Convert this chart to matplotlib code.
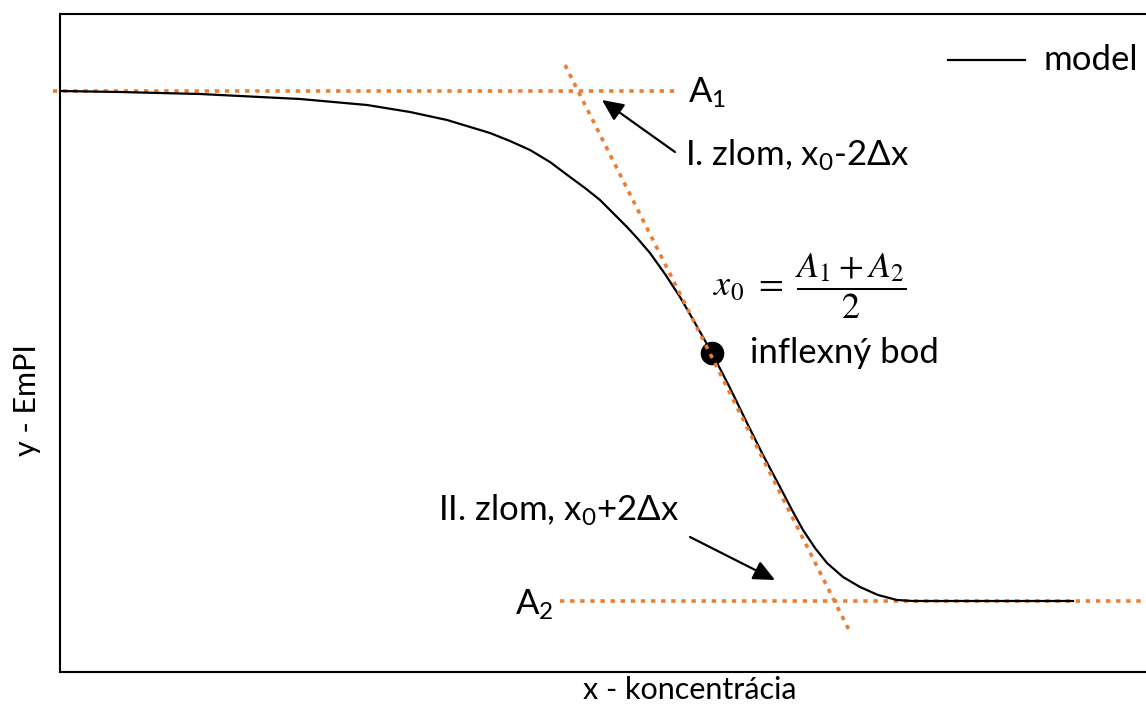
import matplotlib
matplotlib.use("Agg")
import matplotlib.pyplot as plt

plt.rcParams['font.family'] = ['Lato', 'DejaVu Sans']
plt.rcParams['mathtext.fontset'] = 'custom'
plt.rcParams['mathtext.rm'] = 'Lato'
plt.rcParams['mathtext.it'] = 'Lato:italic'

# Model curve (concentration vs. EmPI)
model_x = [0.0, 0.6, 1.4, 2.0, 2.4, 3.07, 3.5, 3.87, 4.3, 4.5, 4.7, 4.9, 5.1, 5.25,
           5.4, 5.53, 5.67, 5.78, 5.9, 6.05, 6.2, 6.35, 6.52, 6.7, 6.87, 7.03, 7.2,
           7.32, 7.43, 7.55, 7.67, 7.83, 8.0, 8.18, 8.37, 8.53, 9.4, 10.13]
model_y = [5.81, 5.80, 5.78, 5.75, 5.73, 5.67, 5.60, 5.52, 5.39, 5.31, 5.22, 5.10, 4.95, 4.84,
           4.72, 4.59, 4.45, 4.33, 4.19, 3.98, 3.75, 3.49, 3.19, 2.84, 2.49, 2.17, 1.85,
           1.62, 1.42, 1.24, 1.09, 0.95, 0.85, 0.77, 0.72, 0.71, 0.71, 0.71]

# Asymptotes and tangent at the inflection point
A1 = 5.81
A2 = 0.71
a1_span = [-0.07, 6.15]
a2_span = [5.0, 11.0]
tangent_x = [5.05, 7.9]
tangent_y = [6.07, 0.40]
inflection = (6.52, 3.19)

ORANGE = '#ED7D31'
FS = 25
FS_AXIS = 22

fig = plt.figure(figsize=(11.46, 7.06), dpi=100)
ax = fig.add_axes([60 / 1146, 34 / 706, 1100 / 1146, 658 / 706])
ax.set_xlim(0, 11.0)
ax.set_ylim(0, 6.58)
ax.set_xticks([])
ax.set_yticks([])
for s in ax.spines.values():
    s.set_linewidth(1.5)

dot_style = dict(color=ORANGE, lw=2.6, linestyle=(0, (1.2, 1.6)),
                 dash_capstyle='butt', clip_on=False)
ax.plot(a1_span, [A1, A1], **dot_style, zorder=2)
ax.plot(a2_span, [A2, A2], **dot_style, zorder=2)
ax.plot(model_x, model_y, color='black', lw=1.6, zorder=3)
ax.plot(tangent_x, tangent_y, **dot_style, zorder=4)
ax.plot(*inflection, 'o', color='black', ms=16, zorder=3)

# Legend entry
ax.plot([8.88, 9.65], [6.12, 6.12], color='black', lw=1.6)
ax.text(9.83, 6.12, 'model', fontsize=FS, va='center', ha='left')

# Labels
ax.text(6.28, 5.79, r'A$_1$', fontsize=FS, va='center', ha='left')
ax.text(4.55, 0.67, r'A$_2$', fontsize=FS, va='center', ha='left')
ax.text(6.25, 5.17, r'I. zlom, x$_0$-2$\Delta$x', fontsize=FS, va='center', ha='left')
ax.text(3.78, 1.62, r'II. zlom, x$_0$+2$\Delta$x', fontsize=FS, va='center', ha='left')
ax.text(6.9, 3.19, 'inflexný bod', fontsize=FS, va='center', ha='left')
ax.text(6.53, 3.86, r'$x_0\ =\ \dfrac{A_1 + A_2}{2}$', fontsize=26, va='center',
        ha='left', math_fontfamily='stix')

arrow = dict(arrowstyle='-|>,head_length=1.3,head_width=0.6', color='black', lw=1.6,
             shrinkA=0, shrinkB=0)
ax.annotate('', xy=(5.42, 5.72), xytext=(6.15, 5.20), arrowprops=arrow)
ax.annotate('', xy=(7.15, 0.92), xytext=(6.3, 1.35), arrowprops=arrow)

fig.text(690 / 1146, 1 - 690 / 706, 'x - koncentrácia', fontsize=FS_AXIS,
         ha='center', va='center')
fig.text(27 / 1146, 1 - 400 / 706, 'y - EmPI', fontsize=FS_AXIS, rotation=90,
         ha='center', va='center')

fig.savefig('out.png', dpi=100)
